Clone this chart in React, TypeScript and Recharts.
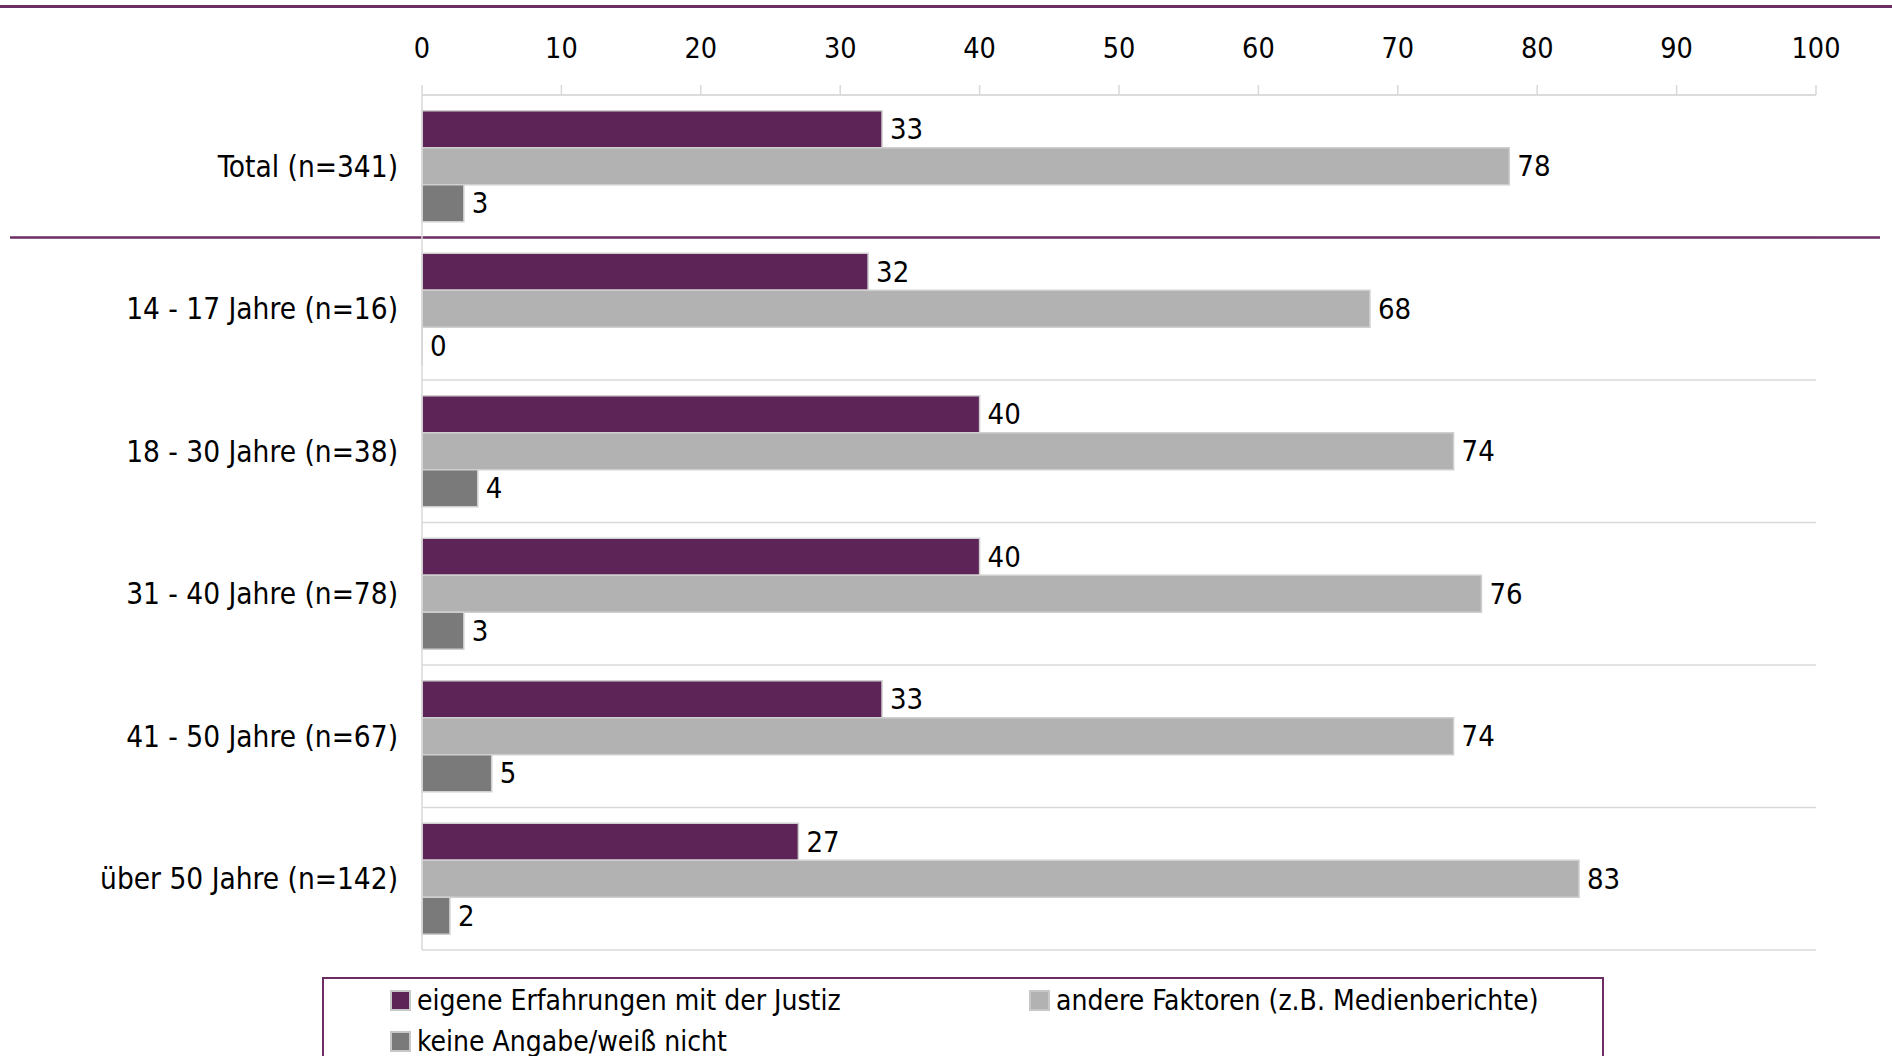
import { BarChart, Bar, XAxis, YAxis, CartesianGrid, ReferenceLine, LabelList } from 'recharts';

const categories = [
  'Total (n=341)',
  '14 - 17 Jahre (n=16)',
  '18 - 30 Jahre (n=38)',
  '31 - 40 Jahre (n=78)',
  '41 - 50 Jahre (n=67)',
  'über 50 Jahre (n=142)',
];

const eigene = [33, 32, 40, 40, 33, 27];
const andere = [78, 68, 74, 76, 74, 83];
const keine = [3, 0, 4, 3, 5, 2];

const xTicks = [0, 10, 20, 30, 40, 50, 60, 70, 80, 90, 100];

const series = [
  { key: 'eigene', name: 'eigene Erfahrungen mit der Justiz', color: '#5C2457' },
  { key: 'andere', name: 'andere Faktoren (z.B. Medienberichte)', color: '#B2B2B2' },
  { key: 'keine', name: 'keine Angabe/weiß nicht', color: '#7A7A7A' },
];

const data = categories.map((name, i) => ({
  name,
  eigene: eigene[i],
  andere: andere[i],
  keine: keine[i],
}));

const FONT = '"DejaVu Sans Condensed", "DejaVu Sans", sans-serif';
const PURPLE_LINE = '#6B2D63';
const GRID = '#d9d9d9';

// horizontal grid lines sit on the category boundaries, not the centers
const boundaryLines = ({ offset }: any) =>
  categories.map((_, i) => offset.top + (offset.height / categories.length) * i).concat(offset.top + offset.height);

// a 0 value still needs its label, so give it a hairline bar
const zeroMin = (v: any) => (v === 0 ? 0.1 : 0);

export default function App() {
  return (
    <div style={{ position: 'fixed', left: 0, top: 0, width: 1892, height: 1056, background: '#fff', overflow: 'hidden', fontFamily: FONT }}>
      <div style={{ position: 'absolute', left: 0, top: 5, width: 1892, height: 3, background: PURPLE_LINE }} />
      <BarChart
        width={1892}
        height={1056}
        data={data}
        layout="vertical"
        margin={{ top: 0, right: 76, bottom: 106, left: 0 }}
        barCategoryGap="11%"
        barGap={0}
      >
        <CartesianGrid vertical={false} stroke={GRID} strokeWidth={1.5} horizontalCoordinatesGenerator={boundaryLines} />
        <XAxis
          type="number"
          orientation="top"
          domain={[0, 100]}
          ticks={xTicks}
          height={95}
          tickSize={10}
          tickMargin={27}
          axisLine={{ stroke: GRID, strokeWidth: 1.5 }}
          tickLine={{ stroke: GRID, strokeWidth: 1.5 }}
          tick={{ fill: '#000', fontSize: 28.5, fontFamily: FONT }}
          interval={0}
        />
        <YAxis
          type="category"
          dataKey="name"
          width={422}
          tickLine={false}
          tickMargin={18}
          axisLine={{ stroke: GRID, strokeWidth: 1.5 }}
          tick={{ fill: '#000', fontSize: 29.5, fontFamily: FONT }}
          interval={0}
        />
        {series.map((s) => (
          <Bar
            key={s.key}
            dataKey={s.key}
            name={s.name}
            fill={s.color}
            stroke="#cfcfcf"
            strokeWidth={1.5}
            minPointSize={zeroMin}
            isAnimationActive={false}
          >
            <LabelList dataKey={s.key} position="right" offset={8} fill="#000" fontSize={29} fontFamily={FONT} />
          </Bar>
        ))}
        <ReferenceLine
          y={categories[1]}
          position="start"
          ifOverflow="visible"
          shape={(p: any) => <line x1={10} x2={1880} y1={p.y1} y2={p.y2} stroke={PURPLE_LINE} strokeWidth={2.5} />}
        />
      </BarChart>
      <div
        style={{
          position: 'absolute',
          left: 322,
          top: 977,
          width: 1282,
          height: 120,
          border: `2px solid ${PURPLE_LINE}`,
          boxSizing: 'border-box',
        }}
      >
        <div style={{ position: 'absolute', left: 66, top: 1, display: 'grid', gridTemplateColumns: '639px 560px', rowGap: 0 }}>
          {series.map((s) => (
            <div key={s.key} style={{ display: 'flex', alignItems: 'center', height: 41, fontSize: 28, color: '#000', whiteSpace: 'nowrap' }}>
              <span style={{ display: 'inline-block', width: 17, height: 17, background: s.color, border: '2px solid #c8c8c8', marginRight: 6 }} />
              {s.name}
            </div>
          ))}
        </div>
      </div>
    </div>
  );
}
